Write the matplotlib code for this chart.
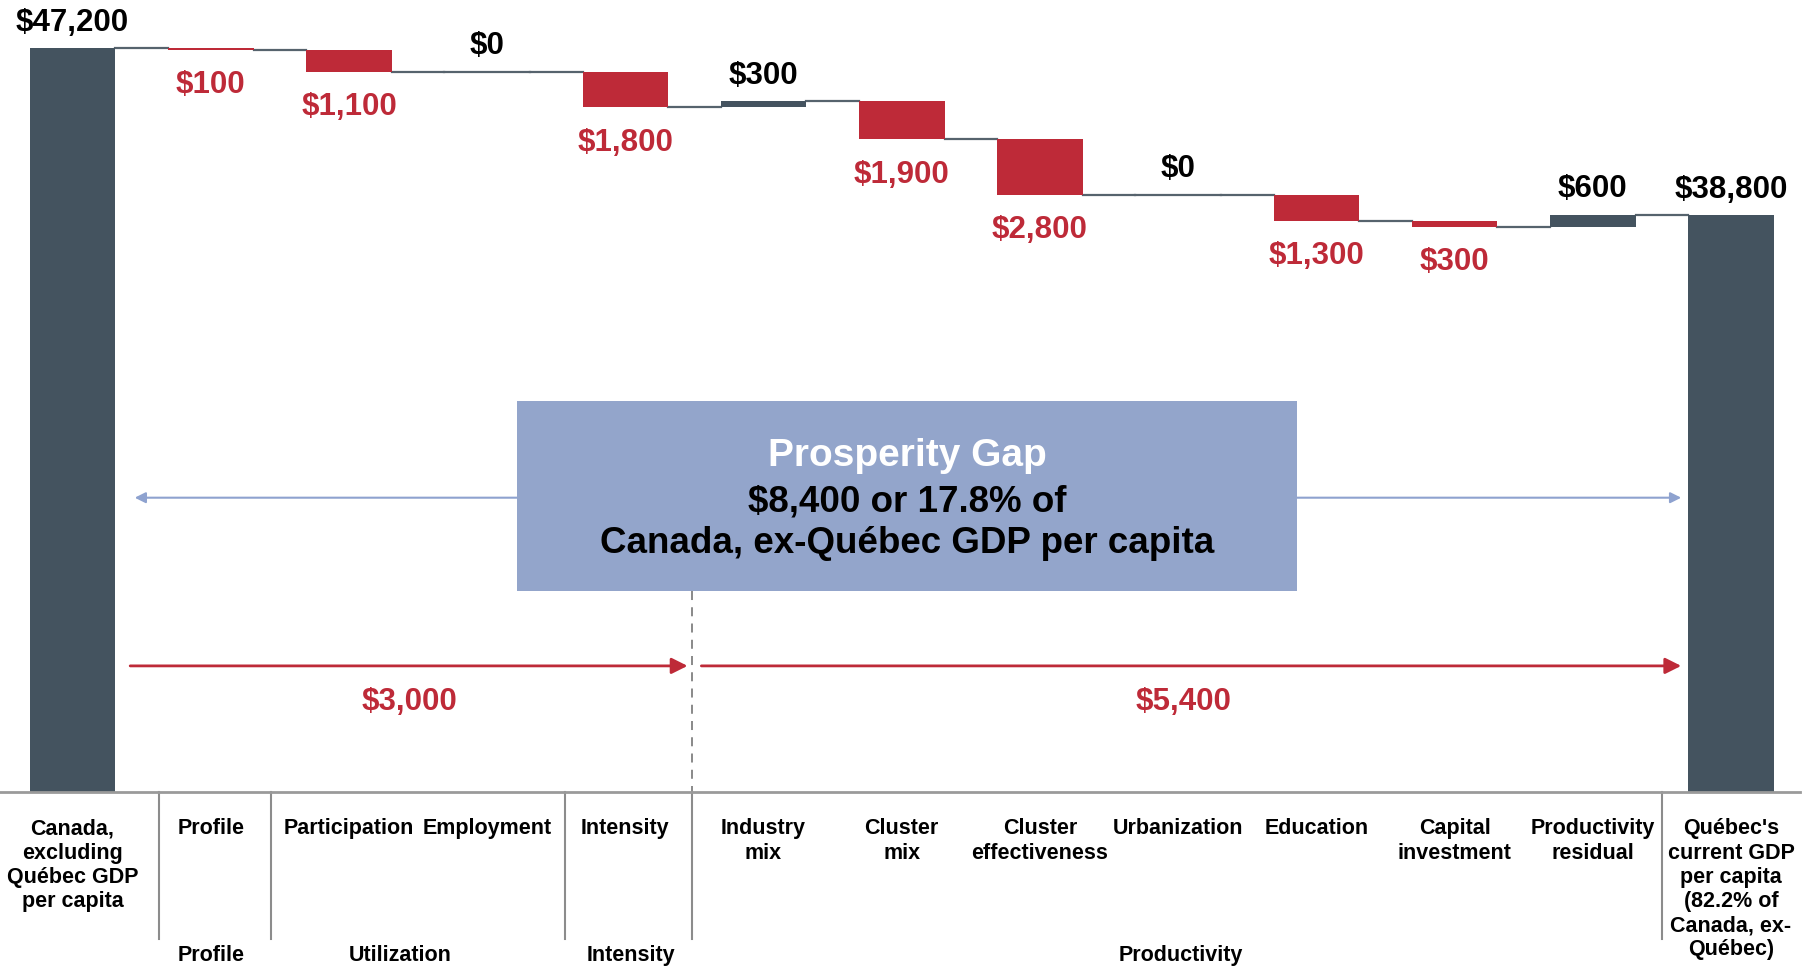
import matplotlib.pyplot as plt
from matplotlib.patches import Rectangle

plt.rcParams['font.family'] = ['Liberation Sans', 'DejaVu Sans']
plt.rcParams['font.weight'] = 'bold'

# Datos del grafico
categories = ["Canada,\nexcluding\nQuébec GDP\nper capita", "Profile", "Participation", "Employment",
              "Intensity", "Industry\nmix", "Cluster\nmix", "Cluster\neffectiveness", "Urbanization",
              "Education", "Capital\ninvestment", "Productivity\nresidual",
              "Québec's\ncurrent GDP\nper capita\n(82.2% of\nCanada, ex-\nQuébec)"]
start_value = 47200
end_value = 38800
changes = [-100, -1100, 0, -1800, 300, -1900, -2800, 0, -1300, -300, 600]
groups = ['Profile', 'Utilization', 'Intensity', 'Productivity']

DARK = '#44535f'
RED = '#be2a38'
BLUE_BOX = '#93a5cb'
BLUE_ARROW = '#8ea2cf'
GRAY = '#8c8c8c'

fig = plt.figure(figsize=(18.06, 9.66), dpi=100)
ax = fig.add_axes([0, 0.1806, 0.9967, 0.8194])
ax.set_xlim(-0.525, 12.5)
ax.set_ylim(9800, 49600)
w = 0.62

# barras totales
ax.bar(0, start_value, width=w, color=DARK, zorder=2)
ax.bar(len(categories) - 1, end_value, width=w, color=DARK, zorder=2)
ax.annotate(f"${start_value:,}", (0, start_value), xytext=(0, 17.6), textcoords='offset points',
            ha='center', va='center', fontsize=22.5, color='black')
ax.annotate(f"${end_value:,}", (len(categories) - 1, end_value), xytext=(0, 17.6),
            textcoords='offset points', ha='center', va='center', fontsize=22.5, color='black')

# barras de variacion
level = start_value
levels = [start_value]
for i, c in enumerate(changes, start=1):
    new = level + c
    if c != 0:
        ax.bar(i, abs(c), bottom=min(level, new), width=w, color=RED if c < 0 else DARK, zorder=2)
    else:
        ax.plot([i - w / 2, i + w / 2], [level, level], color='#56636d', lw=1.6, zorder=1)
    if c < 0:
        ax.annotate(f"${abs(c):,}", (i, new), xytext=(0, -25.5), textcoords='offset points',
                    ha='center', va='center', fontsize=22.5, color=RED)
    else:
        ax.annotate(f"${abs(c):,}", (i, max(level, new)), xytext=(0, 18.5), textcoords='offset points',
                    ha='center', va='center', fontsize=22.5, color='black')
    level = new
    levels.append(level)

# lineas de conexion
for i, lv in enumerate(levels):
    ax.plot([i + w / 2, i + 1 - w / 2], [lv, lv], color='#56636d', lw=1.6, zorder=1)

# etiquetas de categorias
for i, lab in enumerate(categories):
    ax.text(i, -0.034, lab, transform=ax.get_xaxis_transform(), ha='center', va='top',
            fontsize=15.5, linespacing=1.2, color='black')

group_x = [1.0, 2.37, 4.04, 8.02]
for gx, g in zip(group_x, groups):
    ax.text(gx, -0.207, g, transform=ax.get_xaxis_transform(), ha='center', va='center',
            fontsize=15.5, color='black')

for s in [0.625, 1.436, 3.563, 4.482, 11.5]:
    ax.plot([s, s], [0, -0.186], transform=ax.get_xaxis_transform(), clip_on=False,
            color=GRAY, lw=1.5)

# caja de la brecha
gap = start_value - end_value
box = Rectangle((3.217, 19885), 8.858 - 3.217, 29443 - 19885, facecolor=BLUE_BOX,
                edgecolor='none', zorder=3)
ax.add_patch(box)
ax.text(6.04, 26672, 'Prosperity Gap', ha='center', va='center', fontsize=28, color='white', zorder=4)
ax.text(6.04, 24360, f"${gap:,} or {gap / start_value * 100:.1f}% of", ha='center', va='center',
        fontsize=26.5, color='black', zorder=4)
ax.text(6.04, 22262, 'Canada, ex-Québec GDP per capita', ha='center', va='center',
        fontsize=26.5, color='black', zorder=4)

ax.annotate('', xy=(0.45, 24575), xytext=(11.64, 24575),
            arrowprops=dict(arrowstyle='<|-|>', color=BLUE_ARROW, lw=1.5, mutation_scale=16,
                            shrinkA=0, shrinkB=0), zorder=1)

# flechas rojas
first_gap = -sum(changes[:4])
second_gap = -sum(changes[4:])
ax.annotate('', xy=(4.45, 16118), xytext=(0.417, 16118),
            arrowprops=dict(arrowstyle='-|>', color=RED, lw=2, mutation_scale=24,
                            shrinkA=0, shrinkB=0))
ax.annotate('', xy=(11.64, 16118), xytext=(4.55, 16118),
            arrowprops=dict(arrowstyle='-|>', color=RED, lw=2, mutation_scale=24,
                            shrinkA=0, shrinkB=0))
ax.text(2.44, 14300, f"${first_gap:,}", ha='center', va='center', fontsize=22.5, color=RED)
ax.text(8.04, 14300, f"${second_gap:,}", ha='center', va='center', fontsize=22.5, color=RED)

ax.plot([4.483, 4.483], [19885, 9800], color='#808080', lw=1.3, ls=(0, (5, 4)), zorder=1)

for sp in ['top', 'left', 'right']:
    ax.spines[sp].set_visible(False)
ax.spines['bottom'].set_color('#9a9a9a')
ax.spines['bottom'].set_linewidth(2)
ax.spines['bottom'].set_zorder(5)
ax.set_xticks([])
ax.set_yticks([])

fig.savefig('out.png', dpi=100)
